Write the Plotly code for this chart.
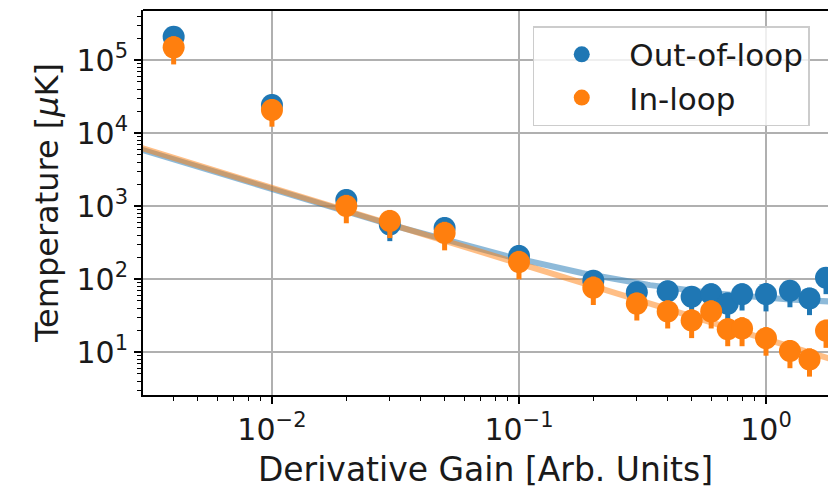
import numpy as np
import plotly.graph_objects as go

# ---- data ----
gain = [0.004, 0.01, 0.02, 0.03, 0.05, 0.1, 0.2, 0.3, 0.4, 0.5, 0.6, 0.7, 0.8, 1.0, 1.25, 1.5, 1.75]
out_of_loop = [208000, 24200, 1210, 560, 500, 207, 95, 66, 68, 57, 62, 46, 62, 62, 69, 54, 104]
out_of_loop_err = [80000, 9500, 480, 230, 200, 85, 38, 26, 27, 23, 25, 19, 25, 26, 28, 22, 42]
in_loop = [149000, 20700, 1000, 623, 427, 171, 76, 46, 36, 27, 36, 20.5, 21, 15.4, 10.3, 7.9, 19.6]
in_loop_err = [62000, 8500, 420, 260, 180, 72, 32, 19, 15, 11.5, 15, 8.5, 9, 6.5, 4.3, 3.3, 8.2]

# fit-model parameters  T = A / g**B + C
fit_out = dict(A=13.0, B=1.05, C=42.0)
fit_in = dict(A=15.0, B=1.036, C=0.0)

x_ticks = [0.01, 0.1, 1]
x_ticktext = ["10<sup>\u22122</sup>", "10<sup>\u22121</sup>", "10<sup>0</sup>"]
y_ticks = [10, 100, 1000, 10000, 100000]
y_ticktext = ["10<sup>1</sup>", "10<sup>2</sup>", "10<sup>3</sup>", "10<sup>4</sup>", "10<sup>5</sup>"]

BLUE = "#1f77b4"
ORANGE = "#ff7f0e"
FONT = "DejaVu Sans"
TXT = "#1a1a1a"


def minor_vals(k0, k1):
    return [d * 10.0 ** k for k in range(k0, k1) for d in range(2, 10)]


g_fit = np.logspace(-2.6, 0.35, 300)
fig = go.Figure()
for p, col in ((fit_out, BLUE), (fit_in, ORANGE)):
    fig.add_trace(go.Scatter(
        x=g_fit, y=p["A"] / g_fit ** p["B"] + p["C"], mode="lines",
        line=dict(color=col, width=6), opacity=0.5, showlegend=False, hoverinfo="skip"))

for name, y, e, col in (("Out-of-loop", out_of_loop, out_of_loop_err, BLUE),
                        ("In-loop", in_loop, in_loop_err, ORANGE)):
    fig.add_trace(go.Scatter(
        x=gain, y=y, mode="markers", name=name,
        marker=dict(color=col, size=22, line=dict(width=0)),
        error_y=dict(type="data", array=e, visible=True, color=col, thickness=5, width=0)))

axis_common = dict(
    type="log", showline=True, linecolor="black", linewidth=2,
    ticks="outside", ticklen=7, tickwidth=1.5, tickcolor="black",
    showgrid=True, gridcolor="#b0b0b0", gridwidth=1.5, zeroline=False,
    tickfont=dict(family=FONT, size=30, color=TXT), automargin=False,
)

fig.update_xaxes(
    **axis_common, range=[-2.522, 0.251], tickvals=x_ticks, ticktext=x_ticktext,
    minor=dict(ticks="outside", ticklen=4, tickwidth=1, tickcolor="black", showgrid=False,
               tickmode="array", tickvals=minor_vals(-3, 1)),
    title=dict(text="Derivative Gain [Arb. Units]", font=dict(family=FONT, size=33, color=TXT), standoff=12),
)
fig.update_yaxes(
    **axis_common, range=[0.411, 5.685], tickvals=y_ticks, ticktext=y_ticktext,
    minor=dict(ticks="outside", ticklen=4, tickwidth=1, tickcolor="black", showgrid=False,
               tickmode="array", tickvals=minor_vals(0, 6)),
    title=dict(text="Temperature [<i>\u03bc</i>K]", font=dict(family=FONT, size=32, color=TXT), standoff=8),
)

# top spine (right spine lies outside the cropped frame)
fig.add_shape(type="line", xref="paper", yref="paper", x0=0, x1=1, y0=1, y1=1,
              line=dict(color="black", width=2))

fig.update_layout(
    width=828, height=492,
    margin=dict(l=143, r=0, t=10, b=97),
    plot_bgcolor="white", paper_bgcolor="white",
    font=dict(family=FONT, size=30, color=TXT),
    legend=dict(x=0.569, y=0.958, xanchor="left", yanchor="top",
                bgcolor="rgba(255,255,255,0.8)", bordercolor="#cccccc", borderwidth=1.5,
                font=dict(family=FONT, size=31, color=TXT), itemsizing="trace", itemwidth=85),
    showlegend=True,
)

fig.write_html("out.html")
